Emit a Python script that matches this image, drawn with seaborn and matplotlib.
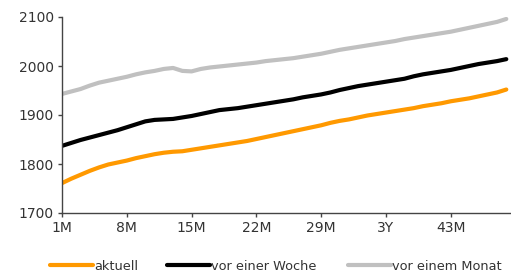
import matplotlib
matplotlib.use("Agg")
import matplotlib.pyplot as plt
import seaborn as sns
import pandas as pd
from matplotlib.lines import Line2D

months = list(range(1, 50))
tick_positions = [1, 8, 15, 22, 29, 36, 43]
tick_labels = ["1M", "8M", "15M", "22M", "29M", "3Y", "43M"]

aktuell = [1761, 1770, 1778, 1786, 1793, 1799, 1803, 1807, 1812, 1816,
           1820, 1823, 1825, 1826, 1829, 1832, 1835, 1838, 1841, 1844,
           1847, 1851, 1855, 1859, 1863, 1867, 1871, 1875, 1879, 1884,
           1888, 1891, 1895, 1899, 1902, 1905, 1908, 1911, 1914, 1918,
           1921, 1924, 1928, 1931, 1934, 1938, 1942, 1946, 1952]
vor_woche = [1837, 1843, 1849, 1854, 1859, 1864, 1869, 1875, 1881, 1887,
             1890, 1891, 1892, 1895, 1898, 1902, 1906, 1910, 1912, 1914,
             1917, 1920, 1923, 1926, 1929, 1932, 1936, 1939, 1942, 1946,
             1951, 1955, 1959, 1962, 1965, 1968, 1971, 1974, 1979, 1983,
             1986, 1989, 1992, 1996, 2000, 2004, 2007, 2010, 2014]
vor_monat = [1943, 1948, 1953, 1960, 1966, 1970, 1974, 1978, 1983, 1987,
             1990, 1994, 1996, 1990, 1989, 1994, 1997, 1999, 2001, 2003,
             2005, 2007, 2010, 2012, 2014, 2016, 2019, 2022, 2025, 2029,
             2033, 2036, 2039, 2042, 2045, 2048, 2051, 2055, 2058, 2061,
             2064, 2067, 2070, 2074, 2078, 2082, 2086, 2090, 2096]

series_names = ["aktuell", "vor einer Woche", "vor einem Monat"]
colors = ["#FF9900", "#000000", "#C0C0C0"]

df = pd.concat([
    pd.DataFrame({"month": months, "value": vals, "series": name})
    for name, vals in zip(series_names, [aktuell, vor_woche, vor_monat])
])

sns.set_style("white")
plt.rcParams["font.family"] = ["DejaVu Sans"]

fig = plt.figure(figsize=(5.11, 2.78), dpi=100)
# axes: left spine at x=62px, 2100 at y=17px, 1700 at y=213px, right edge ~510px
ax = fig.add_axes([62 / 511, 1 - 213 / 278, 448 / 511, 196 / 278])

sns.lineplot(data=df, x="month", y="value", hue="series",
             hue_order=series_names, palette=dict(zip(series_names, colors)),
             linewidth=3.0, ax=ax, legend=False)

ax.set_xlim(1, 49.4)
ax.set_ylim(1700, 2100)
ax.set_yticks([1700, 1800, 1900, 2000, 2100])
ax.set_xticks(tick_positions)
ax.set_xticklabels(tick_labels)
ax.set_xlabel("")
ax.set_ylabel("")

for s in ["top", "right"]:
    ax.spines[s].set_visible(False)
for s in ["left", "bottom"]:
    ax.spines[s].set_color("#444444")
    ax.spines[s].set_linewidth(1.0)
ax.tick_params(axis="both", which="major", direction="out", length=3,
               width=1, color="#444444", labelsize=10, labelcolor="#333333",
               pad=3, left=True, bottom=True)

legend_x = [50 / 511, 167 / 511, 348 / 511]
for name, col, lx in zip(series_names, colors, legend_x):
    leg = fig.legend([Line2D([0], [0], color=col, linewidth=3.0)], [name],
                     loc="center left", bbox_to_anchor=(lx, 1 - 266 / 278),
                     frameon=False, fontsize=9.3, handlelength=3.3,
                     handletextpad=0.1, borderpad=0, borderaxespad=0)
    for t in leg.get_texts():
        t.set_color("#333333")

fig.savefig("out.png", dpi=100)
